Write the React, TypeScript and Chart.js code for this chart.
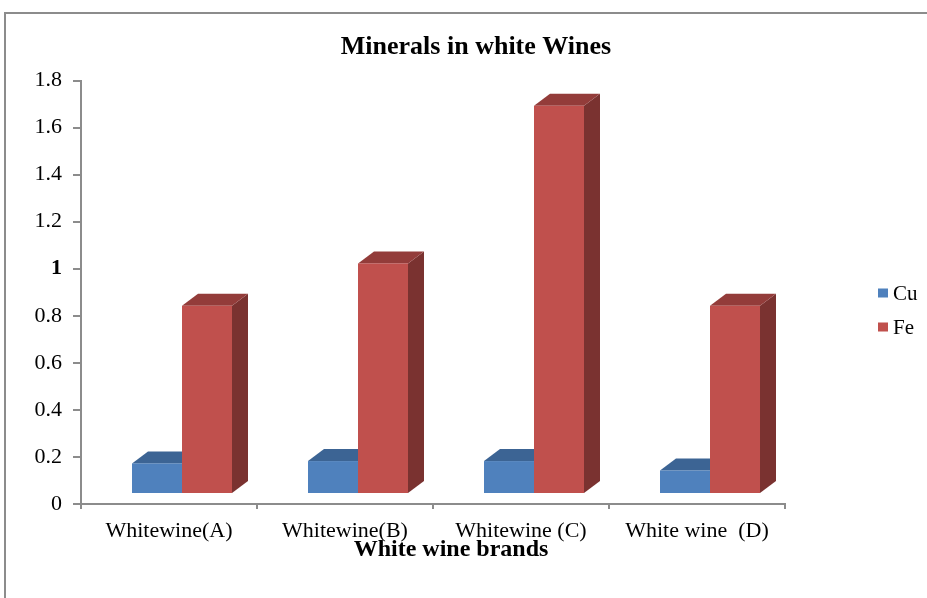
import React, { useEffect, useRef } from "react";
import { Chart, registerables } from "chart.js";

Chart.register(...registerables);

const categories = ["Whitewine(A)", "Whitewine(B)", "Whitewine (C)", "White wine  (D)"];
const cuValues = [0.13, 0.14, 0.14, 0.1];
const feValues = [0.8, 0.98, 1.65, 0.8];
const seriesNames = ["Cu", "Fe"];
const yTickLabels = ["0", "0.2", "0.4", "0.6", "0.8", "1", "1.2", "1.4", "1.6", "1.8"];

const FRONT = ["#4F81BD", "#C0504D"];
const TOP = ["#3C6494", "#933C3A"];
const SIDE = ["#2F5078", "#7A3230"];
const SERIF = "'Liberation Serif', 'Times New Roman', serif";

const bars3d = {
  id: "bars3d",
  beforeDatasetsDraw(chart: any) {
    const ctx = chart.ctx;
    const sx = 13, d0 = 10, dx = 16, dy = 12;
    const n = chart.data.labels.length;
    ctx.save();
    for (let j = 0; j < n; j++) {
      for (let i = 0; i < chart.data.datasets.length; i++) {
        const meta = chart.getDatasetMeta(i);
        const el = meta.data[j];
        if (!el) continue;
        const { x, y, base, width } = el.getProps(["x", "y", "base", "width"], true);
        const l = x - width / 2 + sx;
        const r = x + width / 2 + sx;
        const t = y - d0;
        const b = base - d0;
        ctx.fillStyle = SIDE[i];
        ctx.beginPath();
        ctx.moveTo(r, t);
        ctx.lineTo(r + dx, t - dy);
        ctx.lineTo(r + dx, b - dy);
        ctx.lineTo(r, b);
        ctx.closePath();
        ctx.fill();
        ctx.fillStyle = TOP[i];
        ctx.beginPath();
        ctx.moveTo(l, t);
        ctx.lineTo(l + dx, t - dy);
        ctx.lineTo(r + dx, t - dy);
        ctx.lineTo(r, t);
        ctx.closePath();
        ctx.fill();
        ctx.fillStyle = FRONT[i];
        ctx.fillRect(l, t, r - l, b - t);
      }
    }
    ctx.restore();
    return false;
  },
};

const sideLegend = {
  id: "sideLegend",
  afterDraw(chart: any) {
    const ctx = chart.ctx;
    ctx.save();
    ctx.font = `21px ${SERIF}`;
    ctx.textBaseline = "middle";
    ctx.textAlign = "left";
    chart.data.datasets.forEach((ds: any, i: number) => {
      const cy = 293 + i * 34;
      ctx.fillStyle = ds.backgroundColor;
      ctx.fillRect(878, cy - 4.5, 10, 9);
      ctx.fillStyle = "#000";
      ctx.fillText(ds.label, 893, cy + 1);
    });
    ctx.restore();
  },
};

export default function App() {
  const ref = useRef<HTMLCanvasElement>(null);
  useEffect(() => {
    if (!ref.current) return;
    const chart = new Chart(ref.current, {
      type: "bar",
      data: {
        labels: categories,
        datasets: [
          { label: seriesNames[0], data: cuValues, backgroundColor: FRONT[0] },
          { label: seriesNames[1], data: feValues, backgroundColor: FRONT[1] },
        ],
      },
      plugins: [bars3d, sideLegend],
      options: {
        responsive: false,
        animation: false,
        categoryPercentage: 100 / 176,
        barPercentage: 1,
        layout: { padding: { left: 25, right: 0, top: 0, bottom: 33.6 } },
        plugins: {
          legend: { display: false },
          tooltip: { enabled: false },
          title: {
            display: true,
            text: "Minerals in white Wines",
            color: "#000",
            font: { family: SERIF, size: 26, weight: "bold" },
            padding: { top: 31.4, bottom: 17.9 },
          },
        },
        scales: {
          x: {
            offset: true,
            grid: { display: true, drawOnChartArea: false, tickLength: 5, color: "#8c8c8c", lineWidth: 2, offset: true },
            border: { display: true, color: "#8c8c8c", width: 2 },
            ticks: { color: "#000", padding: 8.8, font: { family: SERIF, size: 22 }, maxRotation: 0, autoSkip: false },
            title: {
              display: true,
              text: "      White wine brands",
              color: "#000",
              font: { family: SERIF, size: 24, weight: "bold" },
              padding: { top: -17.4, bottom: 0 },
            },
          },
          y: {
            min: 0,
            max: 1.8,
            grid: { display: true, drawOnChartArea: false, tickLength: 8, color: "#8c8c8c", lineWidth: 2 },
            border: { display: true, color: "#8c8c8c", width: 2 },
            afterFit: (s: any) => { s.width = 56; },
            ticks: {
              stepSize: 0.2,
              padding: 11,
              color: "#000",
              font: (c: any) => ({ family: SERIF, size: 22, weight: c.tick && Math.abs(c.tick.value - 1) < 1e-9 ? "bold" : "normal" }),
              callback: (_v: any, idx: number) => yTickLabels[idx],
            },
          },
          yRight: {
            type: "linear",
            position: "right",
            display: true,
            grid: { display: false },
            border: { display: false },
            ticks: { display: false },
            afterFit: (s: any) => { s.width = 142; },
          },
        },
      } as any,
    });
    return () => chart.destroy();
  }, []);
  return (
    <div style={{ position: "fixed", left: 0, top: 0, width: 927, height: 598, overflow: "hidden", background: "#fff" }}>
      <canvas ref={ref} width={927} height={598} style={{ position: "absolute", left: 0, top: 0 }} />
      <div style={{ position: "absolute", left: 4, top: 12, width: 1200, height: 1200, border: "2px solid #8c8c8c", pointerEvents: "none" }} />
    </div>
  );
}
